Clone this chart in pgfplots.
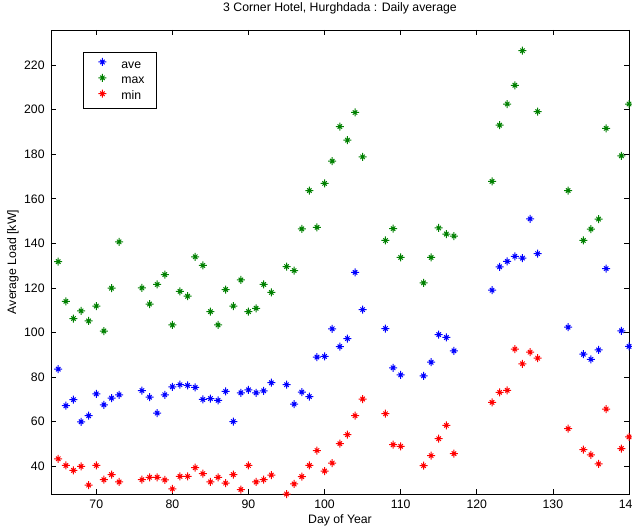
\documentclass[border=0pt]{standalone}
\usepackage{fontspec}
\setmainfont{Liberation Sans}
\usepackage{pgfplots}
\pgfplotsset{compat=1.18}
\pgfdeclareplotmark{matstar}{%
  \pgfpathmoveto{\pgfpoint{-\pgfplotmarksize}{0pt}}%
  \pgfpathlineto{\pgfpoint{\pgfplotmarksize}{0pt}}%
  \pgfpathmoveto{\pgfpoint{0pt}{-\pgfplotmarksize}}%
  \pgfpathlineto{\pgfpoint{0pt}{\pgfplotmarksize}}%
  \pgfpathmoveto{\pgfpoint{-0.55\pgfplotmarksize}{-0.55\pgfplotmarksize}}%
  \pgfpathlineto{\pgfpoint{0.55\pgfplotmarksize}{0.55\pgfplotmarksize}}%
  \pgfpathmoveto{\pgfpoint{-0.55\pgfplotmarksize}{0.55\pgfplotmarksize}}%
  \pgfpathlineto{\pgfpoint{0.55\pgfplotmarksize}{-0.55\pgfplotmarksize}}%
  \pgfusepathqstroke}
\definecolor{mblue}{RGB}{0,0,255}
\definecolor{mgreen}{RGB}{0,128,0}
\definecolor{mred}{RGB}{255,0,0}
\begin{document}
\fontsize{9.2}{11}\selectfont
\begin{tikzpicture}
\begin{axis}[
  scale only axis,
  width=433.5pt, height=348pt,
  xmin=64.05, xmax=140, ymin=27.6, ymax=235.7,
  xtick={70,80,...,140}, ytick={40,60,...,220},
  tick align=inside, major tick length=3.75pt,
  axis line style={line width=0.6pt}, every tick/.style={line width=0.6pt, black},
  /pgf/number format/assume math mode=true,
  xticklabel style={yshift=-1.3pt},
  yticklabel style={xshift=-1.5pt},
  title={3 Corner Hotel, Hurghdada : Daily average},
  title style={at={(0.5,1)}, anchor=base, yshift=8pt},
  xlabel={Day of Year},
  xlabel style={at={(axis description cs:0.5,-0.056)}, anchor=center},
  ylabel={Average Load [kW]},
  ylabel style={at={(axis description cs:-0.0657,0.5)}, anchor=center},
  clip=false,
  legend style={at={(0.0554,0.9526)}, anchor=north west, draw=black, line width=0.6pt,
    legend cell align=left, row sep=2.3pt, inner xsep=9pt, inner ysep=4.2pt,
    nodes={inner sep=0pt, text height=6.6pt, text depth=2pt}},
  legend image code/.code={\path[draw=none,fill=none] (0pt,0pt) -- (19.5pt,0pt);
    \draw[#1] plot coordinates {(5.25pt,2.3pt)};},
]
\addplot[only marks, mark=matstar, mark size=3pt, color=mblue, line width=0.75pt] coordinates {
(65,83.6)(66,67.2)(67,69.9)(68,60)(69,62.7)(70,72.5)(71,67.6)(72,70.6)(73,72.1)
(76,74)(77,71)(78,63.9)(79,72.1)(80,75.7)(81,76.6)(82,76.3)(83,75.4)(84,70)(85,70.4)
(86,69.6)(87,73.6)(88,60.1)(89,73)(90,74.3)(91,73)(92,73.9)(93,77.5)(95,76.6)(96,67.9)
(97,73.3)(98,71.3)(99,89)(100,89.3)(101,101.7)(102,93.7)(103,97.3)(104,127)(105,110.3)
(108,101.8)(109,84.2)(110,81)(113,80.6)(114,86.7)(115,99.1)(116,97.8)(117,91.8)
(122,119)(123,129.5)(124,131.9)(125,134.2)(126,133.4)(127,151)(128,135.4)
(132,102.4)(134,90.3)(135,88)(136,92.2)(137,128.7)(139,100.8)(140,93.8)
};
\addlegendentry{ave}
\addplot[only marks, mark=matstar, mark size=3pt, color=mgreen, line width=0.75pt] coordinates {
(65,131.8)(66,114)(67,106.3)(68,109.7)(69,105.2)(70,111.9)(71,100.7)(72,119.9)(73,140.7)
(76,120)(77,112.8)(78,121.6)(79,126)(80,103.4)(81,118.5)(82,116.3)(83,134)(84,130.1)
(85,109.4)(86,103.4)(87,119.3)(88,111.9)(89,123.6)(90,109.4)(91,110.9)(92,121.6)(93,118)
(95,129.6)(96,127.8)(97,146.5)(98,163.7)(99,147.2)(100,166.9)(101,176.9)(102,192.4)
(103,186.3)(104,198.7)(105,178.8)(108,141.3)(109,146.6)(110,133.7)(113,122.3)(114,133.7)
(115,146.9)(116,144.2)(117,143.3)(122,167.8)(123,193)(124,202.5)(125,210.9)(126,226.4)
(128,199.1)(132,163.7)(134,141.3)(135,146.4)(136,150.9)(137,191.6)(139,179.3)(140,202.5)
};
\addlegendentry{max}
\addplot[only marks, mark=matstar, mark size=3pt, color=mred, line width=0.75pt] coordinates {
(65,43.4)(66,40.4)(67,38.2)(68,40)(69,31.6)(70,40.4)(71,34)(72,36.3)(73,33)
(76,34)(77,35.1)(78,35.1)(79,33.9)(80,29.9)(81,35.5)(82,35.5)(83,39.4)(84,36.7)(85,33)
(86,35.1)(87,32.5)(88,36.3)(89,29.6)(90,40.4)(91,33)(92,34)(93,36.1)(95,27.6)(96,32.1)
(97,35.4)(98,40.4)(99,47.1)(100,37.9)(101,41.5)(102,50.2)(103,54.2)(104,62.7)(105,70.2)
(108,63.6)(109,49.7)(110,49)(113,40.3)(114,44.8)(115,52.4)(116,58.4)(117,45.7)
(122,68.7)(123,73.2)(124,74.1)(125,92.6)(126,86)(127,91.2)(128,88.5)
(132,56.9)(134,47.5)(135,45.2)(136,41.1)(137,65.7)(139,48)(140,53.2)
};
\addlegendentry{min}
\end{axis}
\pgfresetboundingbox
\path[use as bounding box] (current axis.south west) ++(-38.25pt,-26.25pt) rectangle ++(474pt,396.75pt);
\end{tikzpicture}
\end{document}
